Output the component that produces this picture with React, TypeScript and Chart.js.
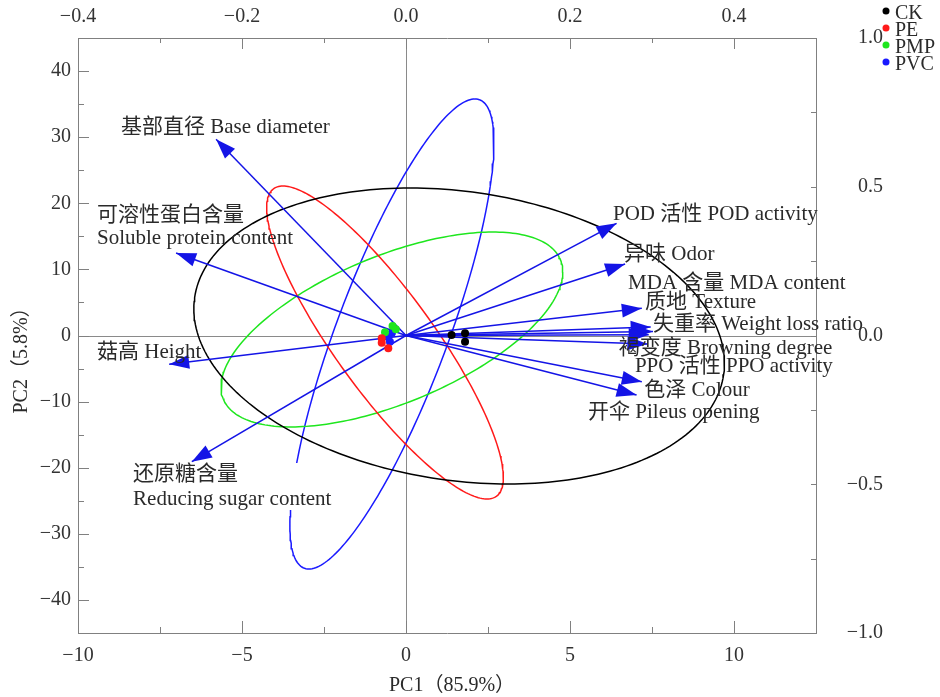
import { useEffect, useRef } from 'react';
import { Chart, registerables } from 'chart.js';

Chart.register(...registerables);

// ---------------- data ----------------
const groupNames = ['CK', 'PE', 'PMP', 'PVC'];
const groupColors = ['#000000', '#ff1a1a', '#1ee61e', '#1a1aff'];

// sample scores (PC1, PC2)
const ckPC1 = [1.39, 1.8, 1.8];
const ckPC2 = [0.08, 0.33, -0.94];
const pePC1 = [-0.74, -0.74, -0.54];
const pePC2 = [-0.42, -1.09, -1.94];
const pmpPC1 = [-0.41, -0.31, -0.64];
const pmpPC2 = [1.44, 0.94, 0.48];
const pvcPC1 = [-0.49, -0.43, -0.55];
const pvcPC2 = [-0.94, 0.38, -0.23];

// confidence ellipses: centre + two conjugate semi-diameters (PC units)
const ellipseCenterPC1 = [1.62, -0.64, -0.43, -0.43];
const ellipseCenterPC2 = [-0.08, -1.06, 0.91, 0.23];
const ellipseU1 = [-1.49, -3.11, 5.21, 2.53];
const ellipseU2 = [22.39, 23.67, 8.7, 35.55];
const ellipseV1 = [7.95, 1.83, 0, 1.81];
const ellipseV2 = [0, 0, 11.9, 0];

// loadings (drawn in PC1/PC2 score units)
const loadingNames = [
  'Base diameter', 'Soluble protein content', 'Height', 'Reducing sugar content',
  'POD activity', 'Odor', 'MDA content', 'Texture', 'Weight loss ratio',
  'Browning degree', 'PPO activity', 'Colour', 'Pileus opening',
];
const loadingPC1 = [-5.79, -7.01, -7.22, -6.53, 6.42, 6.68, 7.46, 7.19, 7.53, 7.36, 7.4, 7.19, 7.03];
const loadingPC2 = [29.68, 12.48, -4.36, -19.09, 16.97, 10.82, 1.29, 4.11, 0.6, -1.29, 0.1, -6.99, -9.0];

// variable label lines
const labelTexts = [
  '基部直径 Base diameter', '可溶性蛋白含量', 'Soluble protein content', '菇高 Height',
  '还原糖含量', 'Reducing sugar content', 'POD 活性 POD activity', '异味 Odor',
  'MDA 含量 MDA content', '质地 Texture', '失重率 Weight loss ratio', '褐变度 Browning degree',
  'PPO 活性 PPO activity', '色泽 Colour', '开伞 Pileus opening',
];
const labelPC1 = [-8.69, -9.42, -9.42, -9.42, -8.32, -8.32, 6.31, 6.65, 6.77, 7.29, 7.53, 6.49, 6.98, 7.26, 5.55];
const labelPC2 = [31.39, 18.08, 14.6, -2.5, -20.95, -24.73, 18.38, 12.18, 7.94, 5.05, 1.74, -1.89, -4.76, -8.39, -11.57];
const boxedLabels = [4, 5];

// axis ticks
const xMajor = [-10, -5, 0, 5, 10];
const xMinor = [-7.5, -2.5, 2.5, 7.5];
const x2Major = [-0.4, -0.2, 0, 0.2, 0.4];
const x2Minor = [-0.3, -0.1, 0.1, 0.3];
const yMajor = [-40, -30, -20, -10, 0, 10, 20, 30, 40];
const yMinor = [-35, -25, -15, -5, 5, 15, 25, 35];
const y2Major = [-1, -0.5, 0, 0.5, 1];
const y2Minor = [-0.75, -0.25, 0.25, 0.75];

const xTitle = 'PC1（85.9%）';
const yTitle = 'PC2（5.8%）';

// ---------------- styles ----------------
const FONT = "'Liberation Serif', 'Times New Roman', 'Noto Sans CJK SC', serif";
const AXIS_COLOR = '#808080';
const TEXT_COLOR = '#2a2a2a';
const ARROW_COLOR = '#1414e6';

const minus = (s: string) => s.replace('-', '\u2212');
const fmtInt = (v: number) => minus(String(v));
const fmt1 = (v: number) => minus(Number(v).toFixed(1));

function ellipsePoints(i: number) {
  const pts: { x: number; y: number }[] = [];
  const n = 240;
  for (let k = 0; k <= n; k++) {
    const t = (2 * Math.PI * k) / n;
    pts.push({
      x: ellipseCenterPC1[i] + ellipseU1[i] * Math.cos(t) + ellipseV1[i] * Math.sin(t),
      y: ellipseCenterPC2[i] + ellipseU2[i] * Math.cos(t) + ellipseV2[i] * Math.sin(t),
    });
  }
  return pts;
}

const biplotPlugin = {
  id: 'biplot',
  beforeDatasetsDraw(chart: any) {
    const { ctx, chartArea: a, scales } = chart;
    const x0 = Math.round(scales.x.getPixelForValue(0)) + 0.5;
    const y0 = Math.round(scales.y.getPixelForValue(0)) + 0.5;
    ctx.save();
    ctx.strokeStyle = '#8a8a8a';
    ctx.lineWidth = 1;
    ctx.beginPath();
    ctx.moveTo(x0, a.top);
    ctx.lineTo(x0, a.bottom);
    ctx.moveTo(a.left, y0);
    ctx.lineTo(a.right, y0);
    ctx.stroke();
    ctx.restore();
  },
  afterDatasetsDraw(chart: any) {
    const { ctx, scales } = chart;
    const ox = scales.x.getPixelForValue(0);
    const oy = scales.y.getPixelForValue(0);
    ctx.save();
    // arrow heads
    ctx.fillStyle = ARROW_COLOR;
    for (let i = 0; i < loadingNames.length; i++) {
      const tx = scales.x.getPixelForValue(loadingPC1[i]);
      const ty = scales.y.getPixelForValue(loadingPC2[i]);
      const ang = Math.atan2(ty - oy, tx - ox);
      const L = 20, W = 7;
      const bx = tx - L * Math.cos(ang), by = ty - L * Math.sin(ang);
      ctx.beginPath();
      ctx.moveTo(tx, ty);
      ctx.lineTo(bx - W * Math.sin(ang), by + W * Math.cos(ang));
      ctx.lineTo(bx + W * Math.sin(ang), by - W * Math.cos(ang));
      ctx.closePath();
      ctx.fill();
    }
    // labels
    ctx.font = `21px ${FONT}`;
    ctx.textBaseline = 'middle';
    ctx.textAlign = 'left';
    if (boxedLabels.length) {
      let minX = Infinity, maxX = -Infinity, minY = Infinity, maxY = -Infinity;
      boxedLabels.forEach((i) => {
        const px = scales.x.getPixelForValue(labelPC1[i]);
        const py = scales.y.getPixelForValue(labelPC2[i]);
        const w = ctx.measureText(labelTexts[i]).width;
        minX = Math.min(minX, px - 2);
        maxX = Math.max(maxX, px + w + 2);
        minY = Math.min(minY, py - 11);
        maxY = Math.max(maxY, py + 11);
      });
      ctx.fillStyle = '#ffffff';
      ctx.fillRect(minX, minY, maxX - minX, maxY - minY);
    }
    ctx.fillStyle = TEXT_COLOR;
    for (let i = 0; i < labelTexts.length; i++) {
      ctx.fillText(labelTexts[i], scales.x.getPixelForValue(labelPC1[i]), scales.y.getPixelForValue(labelPC2[i]));
    }
    ctx.restore();
  },
  afterDraw(chart: any) {
    const { ctx, chartArea: a, scales } = chart;
    ctx.save();
    ctx.strokeStyle = AXIS_COLOR;
    ctx.lineWidth = 1;
    ctx.beginPath();
    const hTicks = (scale: any, vals: number[], len: number, top: boolean) => {
      vals.forEach((v) => {
        const p = Math.round(scale.getPixelForValue(v)) + 0.5;
        if (top) { ctx.moveTo(p, a.top); ctx.lineTo(p, a.top + len); }
        else { ctx.moveTo(p, a.bottom); ctx.lineTo(p, a.bottom - len); }
      });
    };
    const vTicks = (scale: any, vals: number[], len: number, left: boolean) => {
      vals.forEach((v) => {
        const p = Math.round(scale.getPixelForValue(v)) + 0.5;
        if (left) { ctx.moveTo(a.left, p); ctx.lineTo(a.left + len, p); }
        else { ctx.moveTo(a.right, p); ctx.lineTo(a.right - len, p); }
      });
    };
    hTicks(scales.x, xMajor, 12, false);
    hTicks(scales.x, xMinor, 6, false);
    hTicks(scales.x2, x2Major, 11, true);
    hTicks(scales.x2, x2Minor, 5, true);
    vTicks(scales.y, yMajor, 11, true);
    vTicks(scales.y, yMinor, 6, true);
    vTicks(scales.y2, y2Major, 5, false);
    vTicks(scales.y2, y2Minor, 5, false);
    ctx.stroke();

    // axis titles
    ctx.fillStyle = TEXT_COLOR;
    ctx.font = `20px ${FONT}`;
    ctx.textAlign = 'center';
    ctx.textBaseline = 'middle';
    ctx.fillText(xTitle, (a.left + a.right) / 2 + 5, 686);
    ctx.save();
    ctx.translate(22, (a.top + a.bottom) / 2 + 20);
    ctx.rotate(-Math.PI / 2);
    ctx.fillText(yTitle, 0, 0);
    ctx.restore();

    // legend
    ctx.textAlign = 'left';
    groupNames.forEach((g, i) => {
      const cy = 11 + i * 17;
      ctx.fillStyle = groupColors[i];
      ctx.beginPath();
      ctx.arc(886, cy, 3.5, 0, Math.PI * 2);
      ctx.fill();
      ctx.fillStyle = TEXT_COLOR;
      ctx.fillText(g, 895, cy + 3);
    });
    ctx.restore();
  },
};

export default function App() {
  const ref = useRef<HTMLCanvasElement | null>(null);

  useEffect(() => {
    if (!ref.current) return;
    const scoreX = [ckPC1, pePC1, pmpPC1, pvcPC1];
    const scoreY = [ckPC2, pePC2, pmpPC2, pvcPC2];

    const datasets: any[] = [];
    groupNames.forEach((g, i) => {
      datasets.push({
        label: g,
        data: scoreX[i].map((x, k) => ({ x, y: scoreY[i][k] })),
        backgroundColor: groupColors[i],
        borderWidth: 0,
        pointRadius: 4,
        showLine: false,
        order: 1,
      });
    });
    loadingNames.forEach((n, i) => {
      datasets.push({
        label: n,
        data: [{ x: 0, y: 0 }, { x: loadingPC1[i], y: loadingPC2[i] }],
        borderColor: ARROW_COLOR,
        borderWidth: 1.5,
        pointRadius: 0,
        showLine: true,
        fill: false,
        order: 2,
      });
    });
    groupNames.forEach((g, i) => {
      datasets.push({
        label: g + ' ellipse',
        data: ellipsePoints(i),
        borderColor: groupColors[i],
        borderWidth: 1.5,
        pointRadius: 0,
        showLine: true,
        fill: false,
        tension: 0,
        order: 3,
      });
    });

    const tickFont = { family: FONT, size: 20 };
    const common = {
      type: 'linear',
      grid: { display: false, drawTicks: false },
      border: { display: true, color: AXIS_COLOR, width: 1 },
    };

    const chart = new Chart(ref.current, {
      type: 'scatter',
      data: { datasets },
      options: {
        animation: false,
        responsive: false,
        layout: { padding: { left: 0, top: 0, bottom: 0, right: 57 } },
        plugins: { legend: { display: false }, tooltip: { enabled: false } },
        scales: {
          x: {
            ...common,
            position: 'bottom',
            min: -10,
            max: 12.5,
            afterBuildTicks: (s: any) => { s.ticks = xMajor.map((v) => ({ value: v })); },
            afterFit: (s: any) => { s.height = 64; },
            ticks: { font: tickFont, color: '#333', padding: 11, maxRotation: 0, autoSkip: false, callback: (v: any) => fmtInt(v) },
          },
          x2: {
            ...common,
            axis: 'x',
            position: 'top',
            min: -0.4,
            max: 0.5,
            afterBuildTicks: (s: any) => { s.ticks = x2Major.map((v) => ({ value: v })); },
            afterFit: (s: any) => { s.height = 38; },
            ticks: { font: tickFont, color: '#333', padding: 9, maxRotation: 0, autoSkip: false, callback: (v: any) => fmt1(v) },
          },
          y: {
            ...common,
            position: 'left',
            min: -45,
            max: 45,
            afterBuildTicks: (s: any) => { s.ticks = yMajor.map((v) => ({ value: v })); },
            afterFit: (s: any) => { s.width = 78; },
            ticks: { font: tickFont, color: '#333', padding: 7, autoSkip: false, callback: (v: any) => fmtInt(v) },
          },
          y2: {
            ...common,
            axis: 'y',
            position: 'right',
            min: -1,
            max: 1,
            afterBuildTicks: (s: any) => { s.ticks = y2Major.map((v) => ({ value: v })); },
            afterFit: (s: any) => { s.width = 67; },
            ticks: { font: tickFont, color: '#333', padding: 20, crossAlign: 'far', autoSkip: false, callback: (v: any) => fmt1(v) },
          },
        },
      } as any,
      plugins: [biplotPlugin],
    } as any);

    return () => chart.destroy();
  }, []);

  return (
    <div style={{ position: 'absolute', left: 0, top: 0, width: 940, height: 697, background: '#fff' }}>
      <canvas ref={ref} width={940} height={697} />
    </div>
  );
}
